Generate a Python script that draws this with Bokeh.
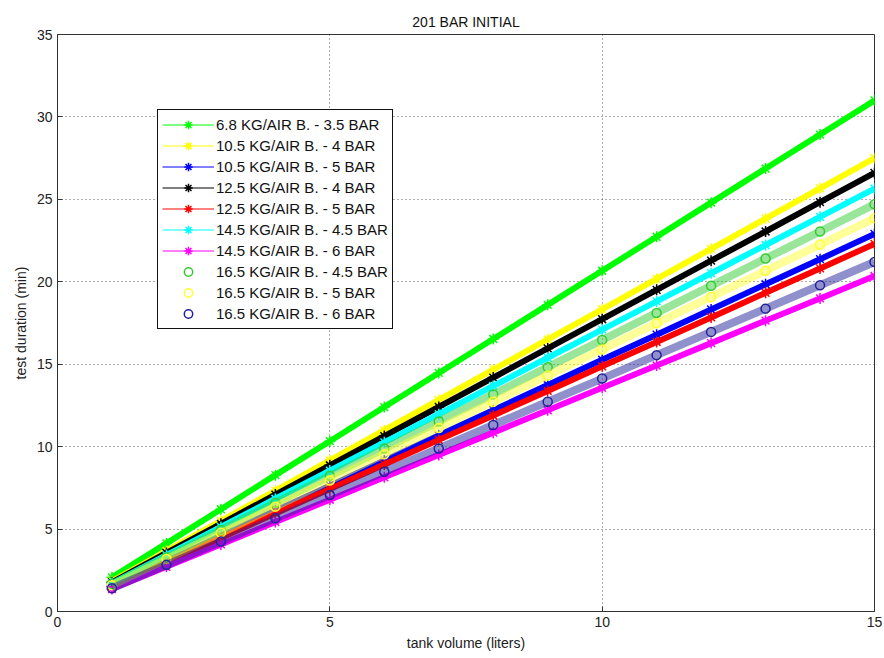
from bokeh.plotting import figure
from bokeh.models import Range1d, Legend, LegendItem, FixedTicker
from bokeh.embed import file_html
from bokeh.resources import INLINE

# ---- data ----
volume = [1, 2, 3, 4, 5, 6, 7, 8, 9, 10, 11, 12, 13, 14, 15]  # tank volume (liters)

s_68_35 = [2.07, 4.13, 6.20, 8.27, 10.33, 12.40, 14.47, 16.53, 18.60, 20.67, 22.73, 24.80, 26.87, 28.93, 31.00]
s_105_4 = [1.83, 3.67, 5.50, 7.33, 9.17, 11.00, 12.83, 14.67, 16.50, 18.33, 20.17, 22.00, 23.83, 25.67, 27.50]
s_105_5 = [1.53, 3.05, 4.58, 6.11, 7.63, 9.16, 10.69, 12.21, 13.74, 15.27, 16.79, 18.32, 19.85, 21.37, 22.90]
s_125_4 = [1.77, 3.55, 5.32, 7.09, 8.87, 10.64, 12.41, 14.19, 15.96, 17.73, 19.51, 21.28, 23.05, 24.83, 26.60]
s_125_5 = [1.49, 2.97, 4.46, 5.95, 7.43, 8.92, 10.41, 11.89, 13.38, 14.87, 16.35, 17.84, 19.33, 20.81, 22.30]
s_145_45 = [1.71, 3.42, 5.13, 6.84, 8.55, 10.26, 11.97, 13.68, 15.39, 17.10, 18.81, 20.52, 22.23, 23.94, 25.65]
s_145_6 = [1.36, 2.71, 4.07, 5.43, 6.78, 8.14, 9.50, 10.85, 12.21, 13.57, 14.92, 16.28, 17.64, 18.99, 20.35]
s_165_45 = [1.65, 3.29, 4.94, 6.59, 8.23, 9.88, 11.53, 13.17, 14.82, 16.47, 18.11, 19.76, 21.41, 23.05, 24.70]
s_165_5 = [1.59, 3.18, 4.77, 6.36, 7.95, 9.54, 11.13, 12.72, 14.31, 15.90, 17.49, 19.08, 20.67, 22.26, 23.85]
s_165_6 = [1.41, 2.83, 4.24, 5.65, 7.07, 8.48, 9.89, 11.31, 12.72, 14.13, 15.55, 16.96, 18.37, 19.79, 21.20]

labels = [
    "6.8 KG/AIR B. - 3.5 BAR",
    "10.5 KG/AIR B. - 4 BAR",
    "10.5 KG/AIR B. - 5 BAR",
    "12.5 KG/AIR B. - 4 BAR",
    "12.5 KG/AIR B. - 5 BAR",
    "14.5 KG/AIR B. - 4.5 BAR",
    "14.5 KG/AIR B. - 6 BAR",
    "16.5 KG/AIR B. - 4.5 BAR",
    "16.5 KG/AIR B. - 5 BAR",
    "16.5 KG/AIR B. - 6 BAR",
]
series = [s_68_35, s_105_4, s_105_5, s_125_4, s_125_5, s_145_45, s_145_6, s_165_45, s_165_5, s_165_6]
colors = ["#00ff00", "#ffff00", "#0000ff", "#000000", "#ff0000", "#00ffff", "#ff00ff",
          "#33cc33", "#ffff33", "#22229a"]
markers = ["asterisk"] * 7 + ["circle"] * 3

x_ticks = [0, 5, 10, 15]
y_ticks = [0, 5, 10, 15, 20, 25, 30, 35]

FONT = "Liberation Sans"

p = figure(width=884, height=658, output_backend="svg", toolbar_location=None,
           x_range=Range1d(0, 15), y_range=Range1d(0, 35),
           min_border_left=57, min_border_right=10, min_border_top=34, min_border_bottom=47)

p.title.text = "201 BAR INITIAL"
p.title.align = "center"
p.title.text_font = FONT
p.title.text_font_size = "14px"
p.title.text_font_style = "normal"
p.title.text_color = "#111111"
p.title.standoff = 10

p.outline_line_color = "#333333"
p.outline_line_width = 1
p.outline_line_alpha = 1

for ax in (p.xaxis[0], p.yaxis[0]):
    ax.major_tick_in = 5
    ax.major_tick_out = 0
    ax.minor_tick_line_color = None
    ax.axis_line_color = "#333333"
    ax.major_tick_line_color = "#333333"
    ax.major_label_text_font = FONT
    ax.major_label_text_font_size = "14px"
    ax.major_label_text_color = "#222222"
    ax.axis_label_text_font = FONT
    ax.axis_label_text_font_size = "14px"
    ax.axis_label_text_font_style = "normal"
    ax.axis_label_text_color = "#222222"
    ax.major_label_standoff = 5
    ax.axis_label_standoff = 5

p.xaxis[0].ticker = FixedTicker(ticks=x_ticks)
p.yaxis[0].ticker = FixedTicker(ticks=y_ticks)
p.xaxis[0].axis_label = "tank volume (liters)"
p.yaxis[0].axis_label = "test duration (min)"

p.grid.grid_line_color = "#333333"
p.grid.grid_line_alpha = 0.8
p.grid.grid_line_dash = "1 3"
p.grid.grid_line_width = 1

items = []
for name, ys, col, mk in zip(labels, series, colors, markers):
    if mk == "asterisk":
        p.line(volume, ys, line_color=col, line_width=6)
        thin = p.line(volume, ys, line_color=col, line_width=1)
        sc = p.scatter(volume, ys, marker="asterisk", size=11, line_color=col, line_width=1.5)
        items.append(LegendItem(label=name, renderers=[thin, sc]))
    else:
        p.line(volume, ys, line_color=col, line_width=8, line_alpha=0.5)
        sc = p.scatter(volume, ys, marker="circle", size=9, fill_color=None,
                       line_color=col, line_width=1.5)
        items.append(LegendItem(label=name, renderers=[sc]))

legend = Legend(items=items, location=(100, 282))
legend.background_fill_color = "white"
legend.background_fill_alpha = 1
legend.border_line_color = "#111111"
legend.border_line_width = 1
legend.border_line_alpha = 1
legend.padding = 4
legend.spacing = 0
legend.margin = 0
legend.label_height = 21
legend.glyph_height = 21
legend.glyph_width = 52
legend.label_standoff = 2
legend.label_text_font = FONT
legend.label_text_font_size = "15px"
legend.label_text_color = "#111111"
p.add_layout(legend)

open("out.html", "w").write(file_html(p, INLINE))
